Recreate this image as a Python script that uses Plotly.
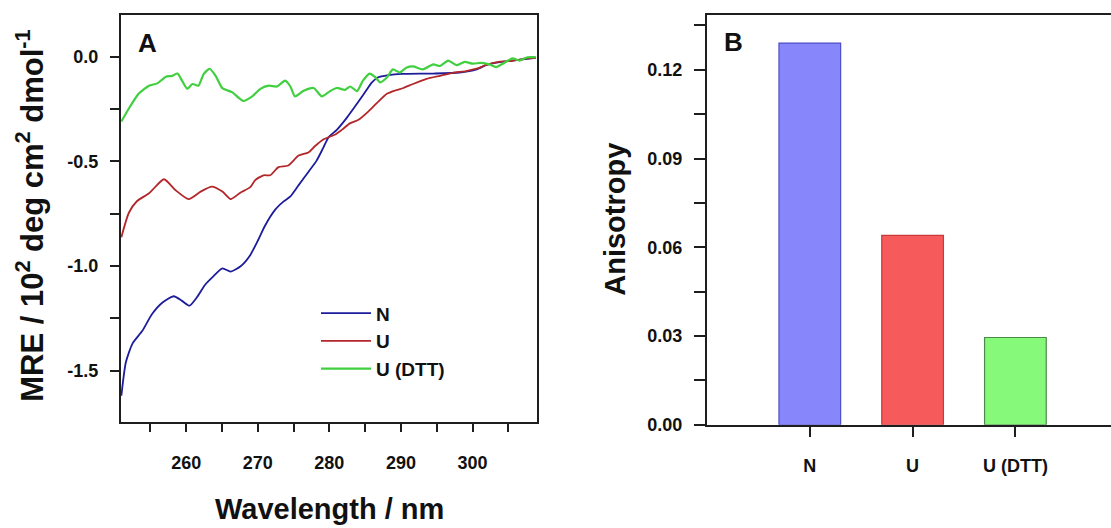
import plotly.graph_objects as go

# ---------------- Panel A data (CD spectra) ----------------
wl_n = [250.95, 251.58, 252.52, 253.88, 255.24, 256.70, 258.27, 259.42, 260.46, 261.50, 262.65, 263.80,
        265.06, 266.21, 267.56, 268.92, 270.07, 271.01, 272.47, 273.62, 274.56, 275.71, 277.07, 278.22,
        279.16, 279.89, 281.04, 282.40, 283.55, 284.69, 285.95, 286.78, 288.25, 290.13, 294.51, 298.17,
        300.57, 301.93, 303.81, 306.11, 308.83]
mre_n = [-1.62, -1.46, -1.37, -1.31, -1.23, -1.175, -1.145, -1.167, -1.19, -1.15, -1.09, -1.05,
         -1.012, -1.027, -1.003, -0.95, -0.875, -0.808, -0.73, -0.692, -0.668, -0.614, -0.551, -0.497,
         -0.435, -0.385, -0.35, -0.294, -0.24, -0.185, -0.123, -0.1, -0.089, -0.083, -0.081, -0.076,
         -0.061, -0.04, -0.027, -0.017, -0.006]

wl_u = [250.95, 252.00, 253.15, 254.82, 256.91, 258.48, 260.36, 262.03, 263.59, 265.06, 266.21, 267.56,
        268.92, 269.65, 270.80, 271.74, 272.89, 274.25, 275.71, 277.07, 278.01, 279.16, 280.83, 281.77,
        282.92, 284.07, 285.43, 286.58, 288.04, 289.19, 290.34, 291.69, 293.57, 295.45, 297.23, 299.11,
        300.57, 301.93, 303.81, 305.59, 307.47, 308.83]
mre_u = [-0.863, -0.746, -0.69, -0.653, -0.586, -0.637, -0.681, -0.645, -0.621, -0.645, -0.681, -0.65,
         -0.625, -0.59, -0.567, -0.567, -0.528, -0.52, -0.473, -0.458, -0.427, -0.396, -0.372, -0.349,
         -0.318, -0.302, -0.263, -0.224, -0.178, -0.162, -0.15, -0.131, -0.107, -0.092, -0.078, -0.069,
         -0.058, -0.04, -0.024, -0.02, -0.009, -0.006]

wl_dtt = [250.95, 252.00, 253.36, 254.82, 255.97, 257.12, 258.06, 258.79, 259.42, 260.15, 260.88, 261.71,
          262.44, 263.28, 264.12, 265.06, 266.41, 267.98, 269.23, 270.38, 271.53, 272.68, 273.83, 274.56,
          275.19, 276.34, 277.80, 278.95, 280.10, 281.04, 282.19, 282.92, 283.86, 284.69, 285.63, 286.37,
          287.10, 288.04, 288.87, 289.81, 290.75, 291.69, 293.05, 294.51, 295.45, 296.60, 297.75, 298.90,
          300.05, 301.20, 302.35, 303.29, 304.23, 305.59, 306.53, 307.68, 308.83]
mre_dtt = [-0.31, -0.248, -0.178, -0.139, -0.128, -0.097, -0.092, -0.081, -0.115, -0.154, -0.131, -0.139,
           -0.084, -0.058, -0.092, -0.151, -0.17, -0.212, -0.19, -0.154, -0.139, -0.143, -0.115, -0.143,
           -0.19, -0.165, -0.15, -0.19, -0.165, -0.15, -0.159, -0.143, -0.165, -0.115, -0.081, -0.097,
           -0.123, -0.1, -0.061, -0.076, -0.053, -0.047, -0.061, -0.037, -0.045, -0.019, -0.041, -0.025,
           -0.034, -0.03, -0.037, -0.05, -0.034, -0.009, -0.019, -0.003, -0.003]

a_xtickvals = [260, 270, 280, 290, 300]
a_xminor = [255, 265, 275, 285, 295, 305]
a_ytickvals = [-1.5, -1.0, -0.5, 0.0]
a_yticktext = ["-1.5", "-1.0", "-0.5", "0.0"]
a_yminor = [-1.25, -0.75, -0.25]

# ---------------- Panel B data (anisotropy) ----------------
categories = ["N", "U", "U (DTT)"]
anisotropy = [0.129, 0.064, 0.0295]
b_ytickvals = [0.0, 0.03, 0.06, 0.09, 0.12]
b_yticktext = ["0.00", "0.03", "0.06", "0.09", "0.12"]
b_yminor = [0.015, 0.045, 0.075, 0.105, 0.135]

FONT = "Arial, Liberation Sans, Helvetica, sans-serif"
AX = "#1e1e1e"
TXT = "#111111"

fig = go.Figure()
fig.add_trace(go.Scatter(x=wl_n, y=mre_n, mode="lines", name="N",
                         line=dict(color="#1c1c9c", width=1.8, shape="spline", smoothing=0.6),
                         xaxis="x", yaxis="y"))
fig.add_trace(go.Scatter(x=wl_u, y=mre_u, mode="lines", name="U",
                         line=dict(color="#b3262a", width=1.8, shape="spline", smoothing=0.6),
                         xaxis="x", yaxis="y"))
fig.add_trace(go.Scatter(x=wl_dtt, y=mre_dtt, mode="lines", name="U (DTT)",
                         line=dict(color="#3fcf3f", width=2.2, shape="spline", smoothing=0.6),
                         xaxis="x", yaxis="y"))

fig.add_trace(go.Bar(x=categories, y=anisotropy, width=0.6, showlegend=False,
                     marker=dict(color=["#8787fb", "#f75a5a", "#86f97a"],
                                 line=dict(color=["#4d4dc8", "#c83a3a", "#4a8a4a"], width=1.2)),
                     xaxis="x2", yaxis="y2"))

tickfont = dict(family=FONT, size=18, color=TXT, weight="bold")
titlefont = dict(family=FONT, size=29, color=TXT, weight="bold")

fig.update_layout(
    width=1111, height=528,
    margin=dict(l=0, r=0, t=0, b=0),
    paper_bgcolor="white", plot_bgcolor="white",
    font=dict(family=FONT),
    xaxis=dict(domain=[121 / 1111, 537 / 1111], range=[250.9, 309.0], anchor="y",
               tickvals=a_xtickvals, ticks="outside", ticklen=8, tickwidth=2,
               tickcolor=AX, showline=True, linecolor=AX, linewidth=2, mirror=True,
               showgrid=False, zeroline=False, tickfont=tickfont, ticklabelstandoff=16,
               minor=dict(tickvals=a_xminor, ticks="outside", ticklen=8,
                          tickwidth=2, tickcolor=AX, showgrid=False)),
    yaxis=dict(domain=[1 - 430 / 528, 1 - 15 / 528], range=[-1.745, 0.2], anchor="x",
               tickvals=a_ytickvals, ticktext=a_yticktext, ticks="outside", ticklen=9, tickwidth=2,
               tickcolor=AX, showline=True, linecolor=AX, linewidth=2, mirror=True,
               showgrid=False, zeroline=False, tickfont=tickfont, ticklabelstandoff=8,
               minor=dict(tickvals=a_yminor, ticks="outside", ticklen=9,
                          tickwidth=2, tickcolor=AX, showgrid=False)),
    xaxis2=dict(domain=[707 / 1111, 1.0], range=[-1.0, 2.93], anchor="y2",
                ticks="outside", ticklen=10, tickwidth=2, tickcolor=AX,
                showline=True, linecolor=AX, linewidth=2, mirror=True,
                showgrid=False, zeroline=False, tickfont=tickfont, ticklabelstandoff=14),
    yaxis2=dict(domain=[1 - 433 / 528, 1 - 15 / 528], range=[0, 0.1386], anchor="x2",
                tickvals=b_ytickvals, ticktext=b_yticktext, ticks="outside", ticklen=11, tickwidth=2,
                tickcolor=AX, showline=True, linecolor=AX, linewidth=2, mirror=False,
                showgrid=False, zeroline=False, tickfont=tickfont, ticklabelstandoff=8,
                minor=dict(tickvals=b_yminor, ticks="outside",
                           ticklen=11, tickwidth=2, tickcolor=AX, showgrid=False)),
    legend=dict(x=316 / 1111, y=1 - 300 / 528, xanchor="left", yanchor="top",
                bgcolor="rgba(0,0,0,0)",
                font=dict(family=FONT, size=19, color=TXT, weight="bold"),
                itemwidth=50, traceorder="normal"),
    annotations=[
        dict(text="A", x=147 / 1111, y=1 - 44 / 528, xref="paper", yref="paper", showarrow=False,
             xanchor="center", yanchor="middle",
             font=dict(family=FONT, size=26, color=TXT, weight="bold")),
        dict(text="B", x=733 / 1111, y=1 - 43 / 528, xref="paper", yref="paper", showarrow=False,
             xanchor="center", yanchor="middle",
             font=dict(family=FONT, size=26, color=TXT, weight="bold")),
        dict(text="Wavelength / nm", x=329 / 1111, y=1 - 519 / 528, xref="paper", yref="paper",
             showarrow=False, xanchor="center", yanchor="middle", font=titlefont),
        dict(text="MRE / 10<sup>2</sup> deg cm<sup>2</sup> dmol<sup>-1</sup>",
             x=30 / 1111, y=1 - 220 / 528, xref="paper", yref="paper", textangle=-90,
             showarrow=False, xanchor="center", yanchor="middle",
             font=dict(family=FONT, size=31, color=TXT, weight="bold")),
        dict(text="Anisotropy", x=615 / 1111, y=1 - 224 / 528, xref="paper", yref="paper",
             textangle=-90, showarrow=False, xanchor="center", yanchor="middle", font=titlefont),
    ],
)

fig.write_html("out.html")
